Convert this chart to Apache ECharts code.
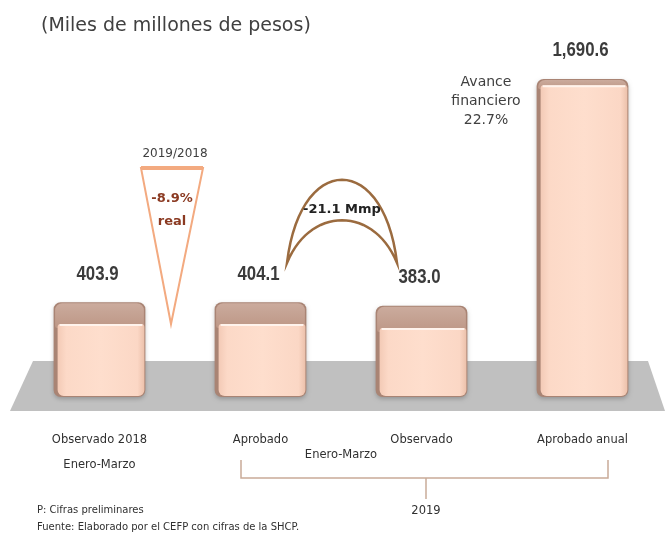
<!DOCTYPE html>
<html>
<head>
<meta charset="utf-8">
<script src="https://cdn.jsdelivr.net/npm/echarts@6/dist/echarts.min.js"></script>
<style>
  html, body { margin: 0; padding: 0; background: #fff; }
  #chart { width: 665px; height: 537px; }
</style>
</head>
<body>
<div id="chart"></div>
<script>
// categorias y montos (miles de millones de pesos)
var categories = ['Observado 2018', 'Aprobado', 'Observado', 'Aprobado anual'];
var montos = [403.9, 404.1, 383.0, 1690.6];

var font = '"DejaVu Sans", sans-serif';
var numFont = '"Liberation Sans", sans-serif';

function fmt(v) {
  return v.toLocaleString('en-US', { minimumFractionDigits: 1, maximumFractionDigits: 1 });
}

// puntos de una curva bezier cubica (para la media luna)
function bezier(p0, p1, p2, p3, n) {
  var pts = [];
  for (var i = 0; i <= n; i++) {
    var t = i / n, u = 1 - t;
    pts.push([
      u * u * u * p0[0] + 3 * u * u * t * p1[0] + 3 * u * t * t * p2[0] + t * t * t * p3[0],
      u * u * u * p0[1] + 3 * u * u * t * p1[1] + 3 * u * t * t * p2[1] + t * t * t * p3[1]
    ]);
  }
  return pts;
}
var crescent = bezier([287, 263], [300, 152], [384, 152], [397, 263], 30)
  .concat(bezier([397, 263], [374, 206], [310, 206], [287, 263], 30).slice(1));

// caja con efecto 3D
function renderBox(params, api) {
  var idx = api.value(0);
  var val = api.value(1);
  var top = api.coord([idx, val]);
  var base = api.coord([idx, 0]);
  var w = api.size([1, 0])[0] * 0.57;
  var x = top[0] - w / 2;
  var th = 6 + (top[1] - 80) * 0.065;
  return {
    type: 'group',
    children: [
      {
        type: 'rect',
        shape: { x: x, y: top[1] - th, width: w, height: base[1] - top[1] + th - 2, r: 7 },
        style: { fill: '#a98474', shadowBlur: 4, shadowColor: 'rgba(0,0,0,0.22)', shadowOffsetY: 2 }
      },
      {
        type: 'rect',
        shape: { x: x + 1.5, y: top[1] - th + 1, width: w - 3, height: th + 3, r: [7, 7, 2, 2] },
        style: {
          fill: new echarts.graphic.LinearGradient(0, 0, 0, 1, [
            { offset: 0, color: '#cbab9d' },
            { offset: 1, color: '#bd9786' }
          ])
        }
      },
      {
        type: 'rect',
        shape: { x: x + 4, y: top[1], width: w - 5, height: base[1] - top[1] - 3, r: [3, 3, 6, 6] },
        style: {
          fill: new echarts.graphic.LinearGradient(0, 0, 1, 0, [
            { offset: 0, color: '#f3cab6' },
            { offset: 0.1, color: '#fcd9c7' },
            { offset: 0.5, color: '#fedecd' },
            { offset: 0.92, color: '#fbd7c5' },
            { offset: 1, color: '#ecc1ab' }
          ])
        }
      },
      {
        type: 'line',
        shape: { x1: x + 6, y1: top[1] + 1, x2: x + w - 3, y2: top[1] + 1 },
        style: { stroke: '#fff3ec', lineWidth: 2 }
      },
      {
        type: 'text',
        x: top[0] - 2,
        y: top[1] - th - 28,
        scaleX: 0.84,
        style: {
          text: fmt(val),
          x: 0,
          y: 0,
          align: 'center',
          verticalAlign: 'middle',
          fontFamily: numFont,
          fontWeight: 'bold',
          fontSize: 20,
          fill: '#3b3b3b'
        }
      }
    ]
  };
}

var chart = echarts.init(document.getElementById('chart'));

var option = {
  animation: false,
  backgroundColor: '#fff',
  grid: { left: 19, right: 2, top: 65, bottom: 138 },
  xAxis: {
    type: 'category',
    data: categories,
    axisLine: { show: false },
    axisTick: { show: false },
    axisLabel: {
      margin: 29,
      fontFamily: font,
      fontSize: 11.5,
      color: '#303030',
      lineHeight: 25,
      formatter: function (v, i) {
        return i === 0 ? v + '\nEnero-Marzo' : v;
      }
    }
  },
  yAxis: { type: 'value', min: 0, max: 1800, show: false },
  graphic: [
    {
      type: 'polygon',
      z: 0,
      shape: { points: [[33, 361], [648, 361], [665, 411], [10, 411]] },
      style: { fill: '#c0c0c0' }
    },
    {
      type: 'text', x: 41, y: 26,
      style: { text: '(Miles de millones de pesos)', verticalAlign: 'middle', fontFamily: font, fontSize: 19, fill: '#404040' }
    },
    // triangulo 2019/2018
    {
      type: 'polygon',
      shape: { points: [[141, 168], [203, 168], [171, 324]] },
      style: { fill: '#fff', stroke: '#f3aa80', lineWidth: 2 }
    },
    {
      type: 'line',
      shape: { x1: 141, y1: 168, x2: 203, y2: 168 },
      style: { stroke: '#f3aa80', lineWidth: 4 }
    },
    {
      type: 'text', x: 175, y: 154,
      style: { text: '2019/2018', align: 'center', verticalAlign: 'middle', fontFamily: font, fontSize: 12, fill: '#404040' }
    },
    {
      type: 'text', x: 172, y: 210,
      style: {
        text: '-8.9%\nreal', align: 'center', verticalAlign: 'middle', lineHeight: 23,
        fontFamily: font, fontWeight: 'bold', fontSize: 13, fill: '#8b3a22'
      }
    },
    // media luna -21.1 Mmp
    {
      type: 'polygon',
      shape: { points: crescent },
      style: { fill: '#fff', stroke: '#9b6b3f', lineWidth: 2.5 }
    },
    {
      type: 'text', x: 342, y: 210,
      style: { text: '-21.1 Mmp', align: 'center', verticalAlign: 'middle', fontFamily: font, fontWeight: 'bold', fontSize: 13, fill: '#222' }
    },
    {
      type: 'text', x: 486, y: 101,
      style: {
        text: 'Avance\nfinanciero\n22.7%', align: 'center', verticalAlign: 'middle', lineHeight: 19,
        fontFamily: font, fontSize: 14, fill: '#404040'
      }
    },
    // llave 2019
    {
      type: 'polyline',
      shape: { points: [[241, 460], [241, 478], [608, 478], [608, 460]] },
      style: { stroke: '#c9ab98', lineWidth: 1.5, fill: null }
    },
    {
      type: 'line',
      shape: { x1: 426, y1: 478, x2: 426, y2: 499 },
      style: { stroke: '#c9ab98', lineWidth: 1.5 }
    },
    {
      type: 'text', x: 341, y: 455,
      style: { text: 'Enero-Marzo', align: 'center', verticalAlign: 'middle', fontFamily: font, fontSize: 11.5, fill: '#303030' }
    },
    {
      type: 'text', x: 426, y: 511,
      style: { text: '2019', align: 'center', verticalAlign: 'middle', fontFamily: font, fontSize: 11.5, fill: '#303030' }
    },
    {
      type: 'text', x: 37, y: 510,
      style: { text: 'P: Cifras preliminares', verticalAlign: 'middle', fontFamily: font, fontSize: 10, fill: '#303030' }
    },
    {
      type: 'text', x: 37, y: 527,
      style: { text: 'Fuente: Elaborado por el CEFP con cifras de la SHCP.', verticalAlign: 'middle', fontFamily: font, fontSize: 10, fill: '#303030' }
    }
  ],
  series: [
    {
      type: 'custom',
      z: 5,
      renderItem: renderBox,
      data: montos.map(function (v, i) { return [i, v]; })
    }
  ]
};

chart.setOption(option);
</script>
</body>
</html>
